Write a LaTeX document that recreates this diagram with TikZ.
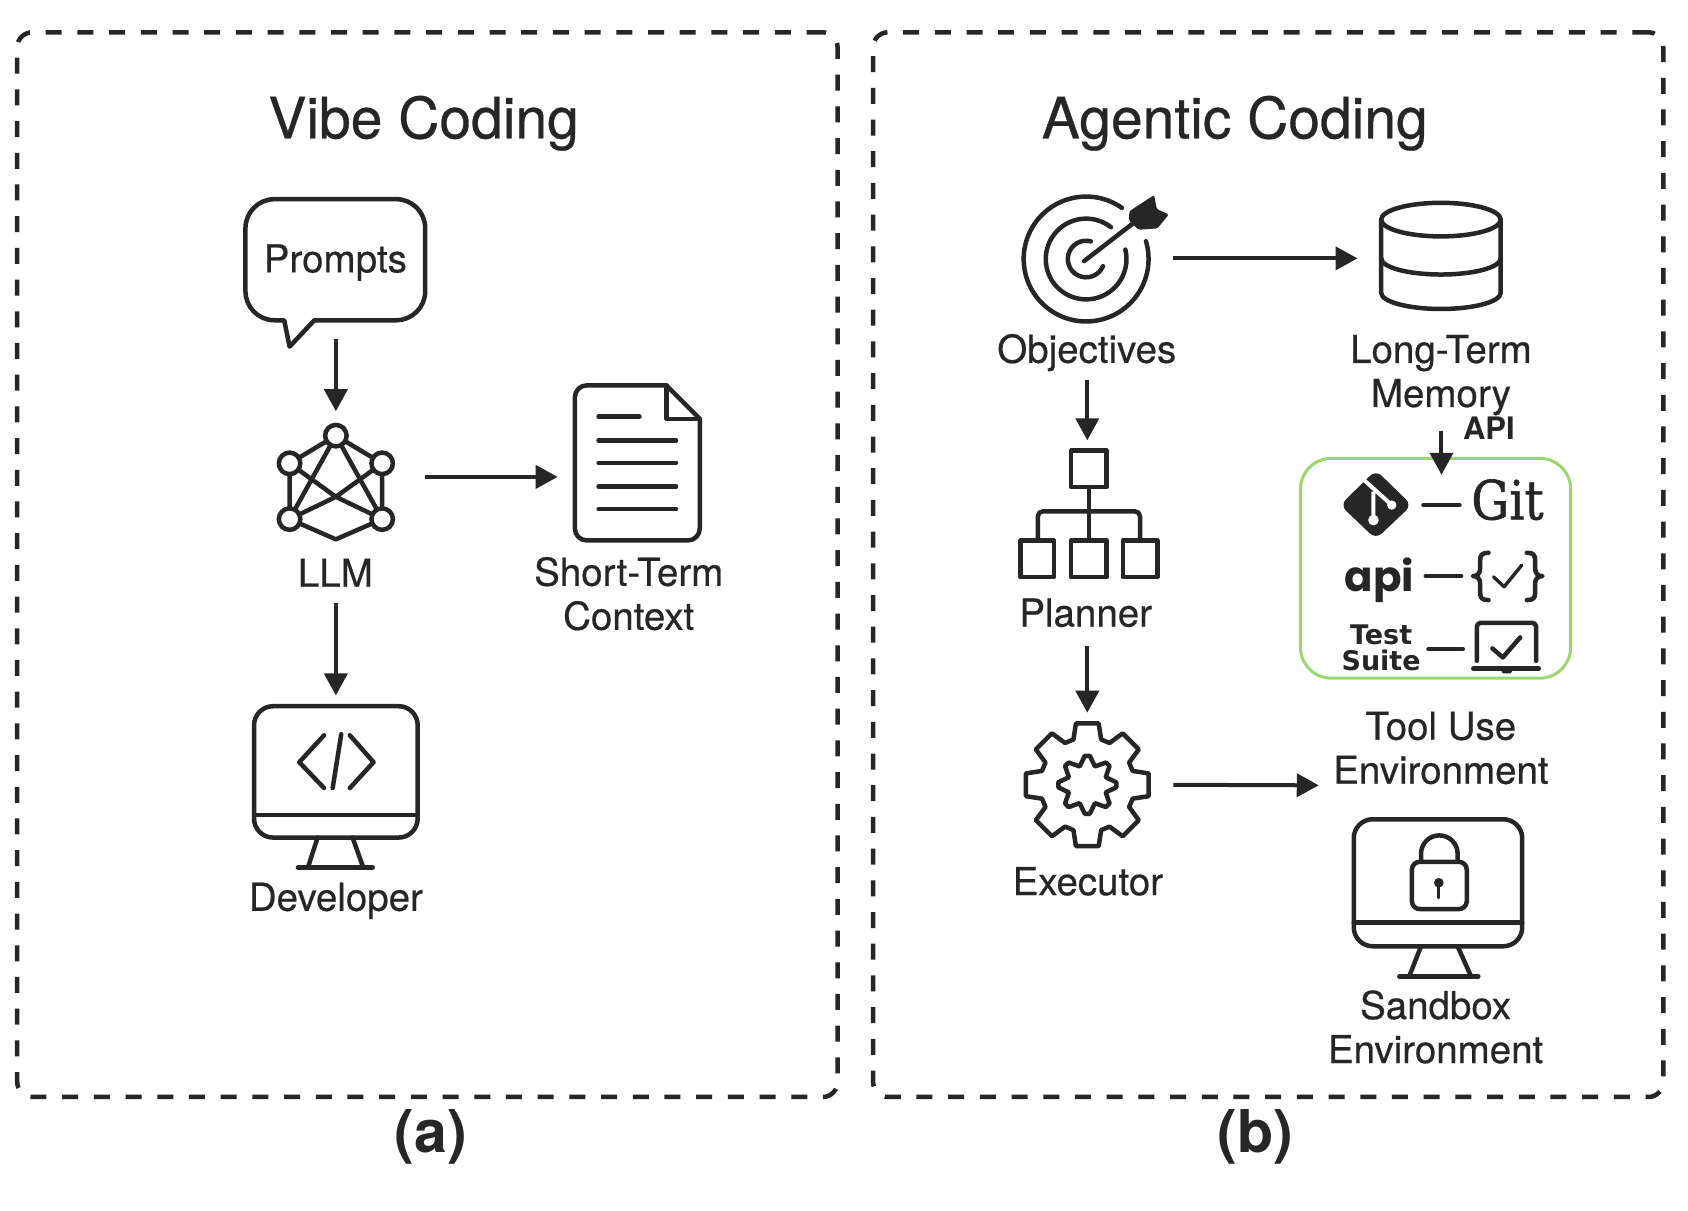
\documentclass[tikz,border=0pt]{standalone}
\usepackage{fontspec}
\usepackage{graphicx}
\setmainfont{TeX Gyre Heros}[UprightFeatures={FakeBold=0.5}]
\newfontfamily\apifont{Poppins}
\newfontfamily\suitefont{DejaVu Sans}
\newfontfamily\gitfont{DejaVu Serif}[FakeBold=1.2]
\usetikzlibrary{arrows.meta,fit}
\definecolor{inkc}{HTML}{262626}
\definecolor{greenc}{HTML}{9BD770}
\tikzset{
  frame/.style={draw=inkc,line width=4.5pt,dash pattern=on 16pt off 15.7pt,rounded corners=15pt},
  ink/.style={draw=inkc,line width=4.5pt,line join=round,line cap=round},
  thinink/.style={draw=inkc,line width=4.5pt,line join=round,line cap=round},
  arr/.style={draw=inkc,line width=4pt,-{Triangle[length=22pt,width=23pt]}},
  lab/.style={font=\fontsize{38.5}{44}\selectfont,text=inkc,anchor=base,align=center,inner sep=0pt},
  heading/.style={font=\fontsize{57}{60}\selectfont,text=inkc,anchor=base,inner sep=0pt},
  caption/.style={font=\fontsize{59}{62}\selectfont\bfseries,text=inkc,anchor=base,inner sep=0pt},
  anc/.style={inner sep=0pt,outer sep=0pt,draw=none},
  netnode/.style={circle,draw=inkc,line width=4.5pt,fill=white,minimum size=21.5pt,inner sep=0pt}
}
\begin{document}
\begin{tikzpicture}[x=1.07653pt,y=-1.07653pt]
\fill[white] (0,0) rectangle (1568,1124);
\useasboundingbox (0,0) rectangle (1568,1124);
% frames
\node[anc,fit={(16,30) (778,1019)},frame] (leftframe) {};
\node[anc,fit={(811,30) (1545,1019)},frame] (rightframe) {};
\node[heading] (vibetitle) at (393.5,128.5) {Vibe Coding};
\node[heading] (agentictitle) at (1147,128.5) {Agentic Coding};
\node[caption] (capa) at (400,1071) {(a)};
\node[caption] (capb) at (1166,1071) {(b)};
% connector anchors
\node[anc,fit={(228,185) (396,315)}] (prompts) {};
\node[anc,fit={(229,382) (395,504)}] (llm) {};
\node[anc,fit={(280,504) (344,560)}] (llmtext) {};
\node[anc,fit={(518,384) (650,502)}] (context) {};
\node[anc,fit={(236,646) (388,806)}] (developer) {};
\node[anc,fit={(930,180) (1090,300)}] (objectives) {};
\node[anc,fit={(930,300) (1090,353)}] (objtext) {};
\node[anc,fit={(1261,188) (1394,292)}] (memoryicon) {};
\node[anc,fit={(948,409) (1072,536)}] (planner) {};
\node[anc,fit={(948,560) (1072,600)}] (plannertext) {};
\node[anc,fit={(930,662) (1090,796)}] (executor) {};
\node[anc,fit={(1225,700) (1440,759)}] (toolenv) {};
\node[anc,fit={(1260,350) (1418,400)}] (memorytext) {};
\node[anc,fit={(1219,441) (1459,630)}] (toolsin) {};
% Prompt bubble
\draw[ink] (264,297.5) -- (255,297.5) arc[start angle=90,end angle=180,radius=27]
  -- (228,212) arc[start angle=180,end angle=270,radius=27]
  -- (368,185) arc[start angle=270,end angle=360,radius=27]
  -- (395,270.5) arc[start angle=0,end angle=90,radius=27]
  -- (292,297.5) -- (269,322) -- cycle;
\node[lab] (promptslabel) at (311.5,253) {Prompts};
% LLM network
\coordinate (n1) at (312,404.7);
\coordinate (n2) at (269,430.4);
\coordinate (n3) at (355,430.4);
\coordinate (n4) at (269,482.2);
\coordinate (n5) at (355,482.2);
\coordinate (n6) at (312,501);
\coordinate (n7) at (312,461.5);
\draw[thinink] (n1)--(n2)--(n4)--(n6)--(n5)--(n3)--(n1);
\draw[thinink] (n1)--(n4) (n1)--(n5) (n2)--(n7)--(n5) (n3)--(n7)--(n4);
\foreach \q in {n1,n2,n3,n4,n5}{\node[netnode] at (\q) {};}
\node[lab] (llmlabel) at (311.5,545) {LLM};
% Document
\draw[ink] (619,358) -- (545,358) arc[start angle=270,end angle=180,radius=11]
  -- (534,491) arc[start angle=180,end angle=90,radius=11]
  -- (639,502) arc[start angle=90,end angle=0,radius=11]
  -- (650,389) -- cycle;
\draw[ink] (619,358) -- (619,389) -- (650,389);
\draw[ink] (556,387) -- (594,387);
\foreach \q in {409,430,452,473}{\draw[ink] (556,\q) -- (628,\q);}
\node[lab] (contextlabel) at (584,585) {Short-Term\\Context};
% Developer monitor
\draw[ink,rounded corners=19pt] (236,656) rectangle (388,778);
\draw[ink] (236,757) -- (388,757);
\draw[ink] (295,778) -- (286,806) (327.5,778) -- (337.5,806);
\draw[ink,line width=5pt] (277,806) -- (346,806);
\draw[ink] (301,683) -- (278,708) -- (301,732);
\draw[ink] (325,683) -- (347,708) -- (325,732);
\draw[ink] (317,682) -- (309,732);
\node[lab] (devlabel) at (312,846) {Developer};
% Target
\draw[ink] (1008.9,240.6) ++(-55:58) arc[start angle=-55,end angle=-376.5,radius=58];
\draw[ink] (1008.9,240.6) ++(-52:37.5) arc[start angle=-52,end angle=-373.5,radius=37.5];
\draw[ink] (1008.9,240.6) ++(-75:17) arc[start angle=-75,end angle=-337,radius=17];
\begin{scope}[shift={(938.3,171.9)},scale=.3097]
  \draw[ink] (222,228) -- (375,110);
  \fill[inkc,rounded corners=1.5pt] (358,78) -- (432,30) -- (440,72) -- (476,88) -- (442,130) -- (385,134) -- (356,105) -- cycle;
\end{scope}
\node[lab] (objlabel) at (1009.5,337) {Objectives};
% Database
\draw[ink] (1338.5,204) ellipse [x radius=55.5,y radius=15.6];
\draw[ink] (1283,204) -- (1283,272) arc[start angle=180,end angle=0,x radius=55.5,y radius=15]
  -- (1394,204);
\draw[ink] (1283,240) arc[start angle=180,end angle=0,x radius=55.5,y radius=15];
\node[lab] (memlabel) at (1338.5,378) {Long-Term\\Memory};
\node[font=\fontsize{31}{33}\selectfont\bfseries,text=inkc,anchor=base,inner sep=0pt] (apilabel) at (1383,408.7) {API};
% Planner hierarchy
\draw[ink] (995,418.5) rectangle (1028,452.5);
\draw[ink] (1011.5,452.5) -- (1011.5,502);
\draw[ink,rounded corners=5pt] (964,502) -- (964,475) -- (1059,475) -- (1059,502);
\draw[ink] (948,502) rectangle (979,536);
\draw[ink] (995,502) rectangle (1028,536);
\draw[ink] (1043,502) rectangle (1075,536);
\node[lab] (planlabel) at (1008.5,582) {Planner};
% Gear
\begin{scope}[shift={(1010,729)}]
\draw[ink] (-10.5:58) \foreach \a in {0,45,...,315}{ -- (\a-10.5:58) -- (\a+10.5:58) -- (\a+17:44) -- (\a+28:44)} -- cycle;
\draw[ink] (-22.5:18.5) \foreach \a in {0,45,...,315}{ -- (\a-5:27) -- (\a+5:27) -- (\a+22.5:18.5)} -- cycle;
\end{scope}
\node[lab] (execlabel) at (1010.5,831.5) {Executor};
\node[lab] (envlabel) at (1338.5,728) {Tool Use\\Environment};
% Sandbox monitor
\draw[ink,rounded corners=19pt] (1257.5,761) rectangle (1414,879);
\draw[ink] (1257.5,857) -- (1414,857);
\draw[ink] (1320,879) -- (1309,907) (1354,879) -- (1366.5,907);
\draw[ink,line width=5pt] (1300,907) -- (1373,907);
\draw[ink,rounded corners=8pt] (1311.5,800.5) rectangle (1362.5,844.5);
\draw[ink] (1320,800.5) -- (1320,793) arc[start angle=180,end angle=360,radius=17] -- (1354,800.5);
\fill[inkc] (1336.5,820) circle[radius=4.5];
\draw[ink,line width=3pt] (1336.5,820) -- (1336.5,834);
\node[lab] (sandlabel) at (1333.5,987.5) {Sandbox\\Environment};
% Green tool panel
\node[anc,fit={(1208,425.7) (1459,630)},draw=greenc,line width=3pt,rounded corners=31pt] (toolpanel) {};
\begin{scope}[shift={(1189.1,390.2)},scale=.3097]
  \fill[inkc,rounded corners=8pt] (287,150) -- (395,255) -- (287,357) -- (180,255) -- cycle;
  \draw[white,line width=4pt,line cap=butt] (235,165) -- (335,255) (280,215) -- (280,300);
  \fill[white] (280,300) circle[radius=16] (335,255) circle[radius=14];
  \draw[ink] (430,255) -- (538,255);
  \node[font=\gitfont\fontsize{54}{56}\selectfont,text=inkc,anchor=base,inner sep=0pt] (gitlabel) at (682,298) {\scalebox{.88}[1]{Git}};
  \node[font=\apifont\bfseries\fontsize{42}{44}\selectfont,text=inkc,anchor=base,inner sep=0pt] (apitext) at (298,515) {api};
  \draw[ink] (437,468) -- (543,468);
  \draw[ink] (625,398) .. controls (605,398) and (600,405) .. (600,422) -- (600,445) .. controls (600,460) and (592,468) .. (578,468) .. controls (592,468) and (600,476) .. (600,490) -- (600,518) .. controls (600,533) and (605,540) .. (625,540);
  \draw[ink] (740,398) .. controls (760,398) and (765,405) .. (765,422) -- (765,445) .. controls (765,460) and (773,468) .. (787,468) .. controls (773,468) and (765,476) .. (765,490) -- (765,518) .. controls (765,533) and (760,540) .. (740,540);
  \draw[ink,line width=3.4pt] (640,470) -- (672,500) -- (725,435);
  \node[font=\suitefont\bfseries\fontsize{27}{26.7}\selectfont,text=inkc,anchor=base,align=center,inner sep=0pt] (suitelabel) at (303,752) {Test\\Suite};
  \draw[ink] (445,687) -- (548,687);
  \draw[ink,rounded corners=4pt] (590,722) -- (590,608) -- (768,608) -- (768,722);
  \draw[ink] (637,685) -- (668,712) -- (720,652);
  \draw[ink,line width=5pt] (580,746) -- (775,746);
  \fill[inkc] (660,746) -- (700,746) -- (692,760) -- (668,760) -- cycle;
\end{scope}
% connectors
\draw[arr] (prompts.south) -- (llm.north);
\draw[arr] (llm.east) -- (context.west);
\draw[arr] (llmtext.south) -- (developer.north);
\draw[arr] (objectives.east) -- (memoryicon.west);
\draw[arr] (objtext.south) -- (planner.north);
\draw[arr] (plannertext.south) -- (executor.north);
\draw[arr] (executor.east) -- (toolenv.west);
\draw[arr] (memorytext.south) -- (memorytext.south |- toolsin.north);
\end{tikzpicture}
\end{document}
